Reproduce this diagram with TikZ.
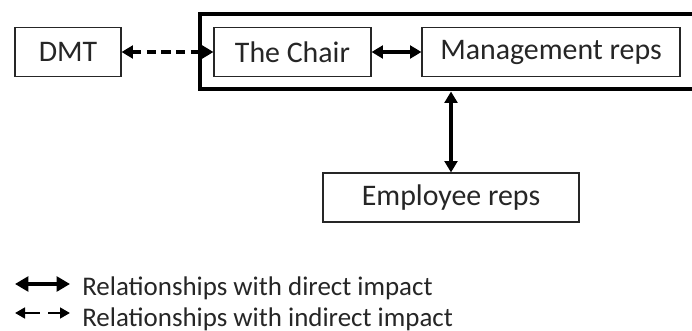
\documentclass[tikz,border=0pt]{standalone}
\usepackage{fontspec}
\setmainfont{Carlito}
\usetikzlibrary{arrows.meta}
\tikzset{
  box/.style={draw=black!85, line width=0.8pt, minimum height=36.75pt, inner sep=0pt,
    text=black!85, font=\fontsize{22.4}{27}\selectfont},
  link/.style={line width=2.5pt, {Triangle[length=8.5pt,width=9.5pt]}-{Triangle[length=8.5pt,width=9.5pt]}},
  indirect/.style={link, dash pattern=on 7pt off 4pt},
  keytext/.style={anchor=base west, inner sep=0pt, text=black!85, font=\fontsize{20.2}{24}\selectfont}
}
\begin{document}
\begin{tikzpicture}[x=0.75pt,y=-0.75pt]
    \clip (0,0) rectangle (692,331);
    \fill [white] (0,0) rectangle (692,331);
    % Riquadri
    \node [draw, line width=3pt, minimum width=375pt, minimum height=56.25pt] (team) at (450,52) {};
    \node [box, minimum width=79.5pt] (dmt) at (68,52) {DMT};
    \node [box, minimum width=117.75pt] (chair) at (292.5,52) {The Chair};
    \node [box, minimum width=193.5pt] (mgmt) at (551,52) {Management reps};
    \node [box, minimum width=192pt] (emp) at (451,197.5) {Employee reps};
    % Frecce
    \draw [indirect] (dmt) -- (chair);
    \draw [link] (chair) -- (mgmt);
    \draw [link] (emp.north) -- (emp.north |- team.south);
    % Legenda
    \coordinate (d1) at (15,284);
    \coordinate (d2) at (70,284);
    \coordinate (i1) at (15,313);
    \coordinate (i2) at (70,313);
    \draw [line width=3pt, {Triangle[length=10pt,width=11pt]}-{Triangle[length=10pt,width=11pt]}] (d1) -- (d2);
    \draw [line width=2pt, dash pattern=on 12pt off 6pt, {Triangle[length=7.5pt,width=8pt]}-{Triangle[length=7.5pt,width=8pt]}] (i1) -- (i2);
    \node [keytext] (direct) at (82,295) {Relationships with direct impact};
    \node [keytext] (indir) at (82,326) {Relationships with indirect impact};
\end{tikzpicture}
\end{document}
